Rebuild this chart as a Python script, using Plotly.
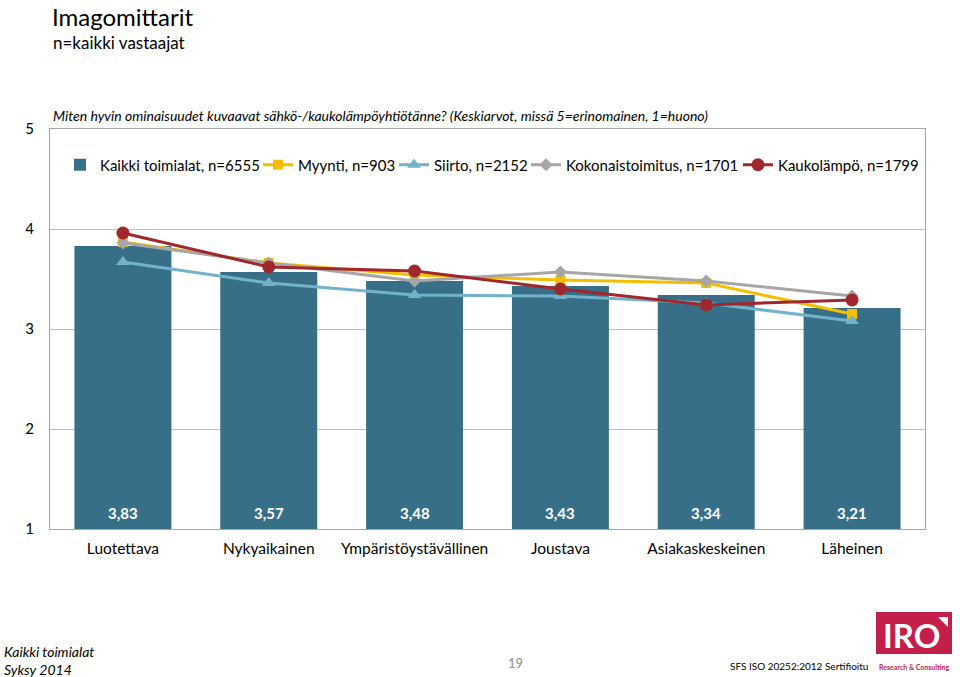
import plotly.graph_objects as go

categories = ["Luotettava", "Nykyaikainen", "Ympäristöystävällinen", "Joustava", "Asiakaskeskeinen", "Läheinen"]
kaikki = [3.83, 3.57, 3.48, 3.43, 3.34, 3.21]
myynti = [3.87, 3.66, 3.54, 3.49, 3.46, 3.15]
siirto = [3.67, 3.46, 3.34, 3.33, 3.26, 3.08]
kokonais = [3.86, 3.66, 3.48, 3.57, 3.48, 3.33]
kaukolampo = [3.96, 3.62, 3.58, 3.40, 3.24, 3.29]
y_ticks = [1, 2, 3, 4, 5]

FONT = "Lato"
L, R, T, B = 50, 35, 129, 148
W, H = 960, 677
pw, ph = W - L - R, H - T - B


def px(x):
    return (x - L) / pw


def py(y):
    return (H - B - y) / ph


fig = go.Figure()

fig.add_trace(go.Bar(x=categories, y=[v - 1 for v in kaikki], base=1,
                     name="Kaikki toimialat, n=6555", marker_color="#376F88",
                     marker_line_width=0, hoverinfo="skip", legend="legend"))
fig.add_trace(go.Scatter(x=categories, y=myynti, name="Myynti, n=903", mode="lines+markers",
                         line=dict(color="#F5BE00", width=3),
                         marker=dict(symbol="square", size=10, color="#F5BE00"), legend="legend2"))
fig.add_trace(go.Scatter(x=categories, y=siirto, name="Siirto, n=2152", mode="lines+markers",
                         line=dict(color="#72B3CB", width=3),
                         marker=dict(symbol="triangle-up", size=12, color="#72B3CB"), legend="legend3"))
fig.add_trace(go.Scatter(x=categories, y=kokonais, name="Kokonaistoimitus, n=1701", mode="lines+markers",
                         line=dict(color="#A6A6A6", width=3),
                         marker=dict(symbol="diamond", size=10, color="#A6A6A6"), legend="legend4"))
fig.add_trace(go.Scatter(x=categories, y=kaukolampo, name="Kaukolämpö, n=1799", mode="lines+markers",
                         line=dict(color="#A0282C", width=3),
                         marker=dict(symbol="circle", size=13, color="#A0282C"), legend="legend5"))

annotations = []
for c, v in zip(categories, kaikki):
    annotations.append(dict(x=c, y=1, xref="x", yref="y", yshift=16, showarrow=False,
                            text="<b>" + f"{v:.2f}".replace(".", ",") + "</b>",
                            font=dict(family=FONT, size=15, color="white"),
                            yanchor="middle"))

extra = [
    dict(text="Imagomittarit", x=px(50), y=py(17), xanchor="left", yanchor="middle",
         font=dict(family=FONT, size=24, color="black")),
    dict(text="n=kaikki vastaajat", x=px(51), y=py(43), xanchor="left", yanchor="middle",
         font=dict(family=FONT, size=17, color="black")),
    dict(text="<i>Miten hyvin ominaisuudet kuvaavat sähkö-/kaukolämpöyhtiötänne? (Keskiarvot, missä 5=erinomainen, 1=huono)</i>",
         x=px(51), y=py(115), xanchor="left", yanchor="middle",
         font=dict(family=FONT, size=14, color="black")),
    dict(text="<i>Kaikki toimialat</i>", x=px(2), y=py(651), xanchor="left", yanchor="middle",
         font=dict(family=FONT, size=14, color="black")),
    dict(text="<i>Syksy 2014</i>", x=px(2), y=py(669), xanchor="left", yanchor="middle",
         font=dict(family=FONT, size=14, color="black")),
    dict(text="19", x=px(515), y=py(663), xanchor="center", yanchor="middle",
         font=dict(family=FONT, size=13, color="#8C8C8C")),
    dict(text="SFS ISO 20252:2012 Sertifioitu", x=px(870), y=py(666), xanchor="right", yanchor="middle",
         font=dict(family=FONT, size=10, color="black")),
    dict(text="<b>IRO</b>", x=px(911), y=py(635), xanchor="center", yanchor="middle",
         font=dict(family=FONT, size=33, color="white")),
    dict(text="<b>Research & Consulting</b>", x=px(914), y=py(667), xanchor="center", yanchor="middle",
         font=dict(family=FONT, size=7, color="#C41E4A")),
]
for a in extra:
    a.update(xref="paper", yref="paper", showarrow=False)
annotations += extra

shapes = [
    dict(type="rect", xref="paper", yref="paper", x0=px(876), x1=px(952), y0=py(612), y1=py(654),
         fillcolor="#C41E4A", line=dict(width=0), layer="above"),
    dict(type="path", xref="paper", yref="paper",
         path=f"M {px(938)},{py(617)} L {px(948)},{py(617)} L {px(948)},{py(627)} Z",
         fillcolor="white", line=dict(width=0), layer="above"),
]

# legend text start positions (pixels) in the reference
legend_text_x = [100, 298, 434, 566, 778]
legend_font = dict(family=FONT, size=15, color="black")
legend_common = dict(orientation="h", yanchor="middle", y=py(165), xanchor="left",
                     font=legend_font, bgcolor="rgba(0,0,0,0)", itemwidth=30)
legends = {}
for i, tx in enumerate(legend_text_x):
    key = "legend" if i == 0 else f"legend{i + 1}"
    legends[key] = dict(legend_common, x=px(tx - 40))

fig.update_layout(
    width=W, height=H,
    margin=dict(l=L, r=R, t=T, b=B, autoexpand=False),
    paper_bgcolor="white", plot_bgcolor="white",
    font=dict(family=FONT, size=15, color="black"),
    bargap=0.335,
    showlegend=True,
    annotations=annotations,
    shapes=shapes,
    hovermode=False,
    **legends,
)
fig.update_xaxes(showgrid=False, showline=True, linecolor="#A6A6A6", linewidth=1, mirror=True,
                 ticks="", ticklabelstandoff=5, tickfont=dict(family=FONT, size=15.5, color="black"),
                 fixedrange=True)
fig.update_yaxes(range=[1, 5], tickvals=y_ticks, showgrid=True, gridcolor="#BFBFBF", gridwidth=1,
                 showline=True, linecolor="#A6A6A6", linewidth=1, mirror=True, zeroline=False,
                 ticks="", ticklabelstandoff=12, tickfont=dict(family=FONT, size=15, color="black"),
                 fixedrange=True)

fig.write_html("out.html", config={"displayModeBar": False},
               post_script="document.body.style.margin='0';")
